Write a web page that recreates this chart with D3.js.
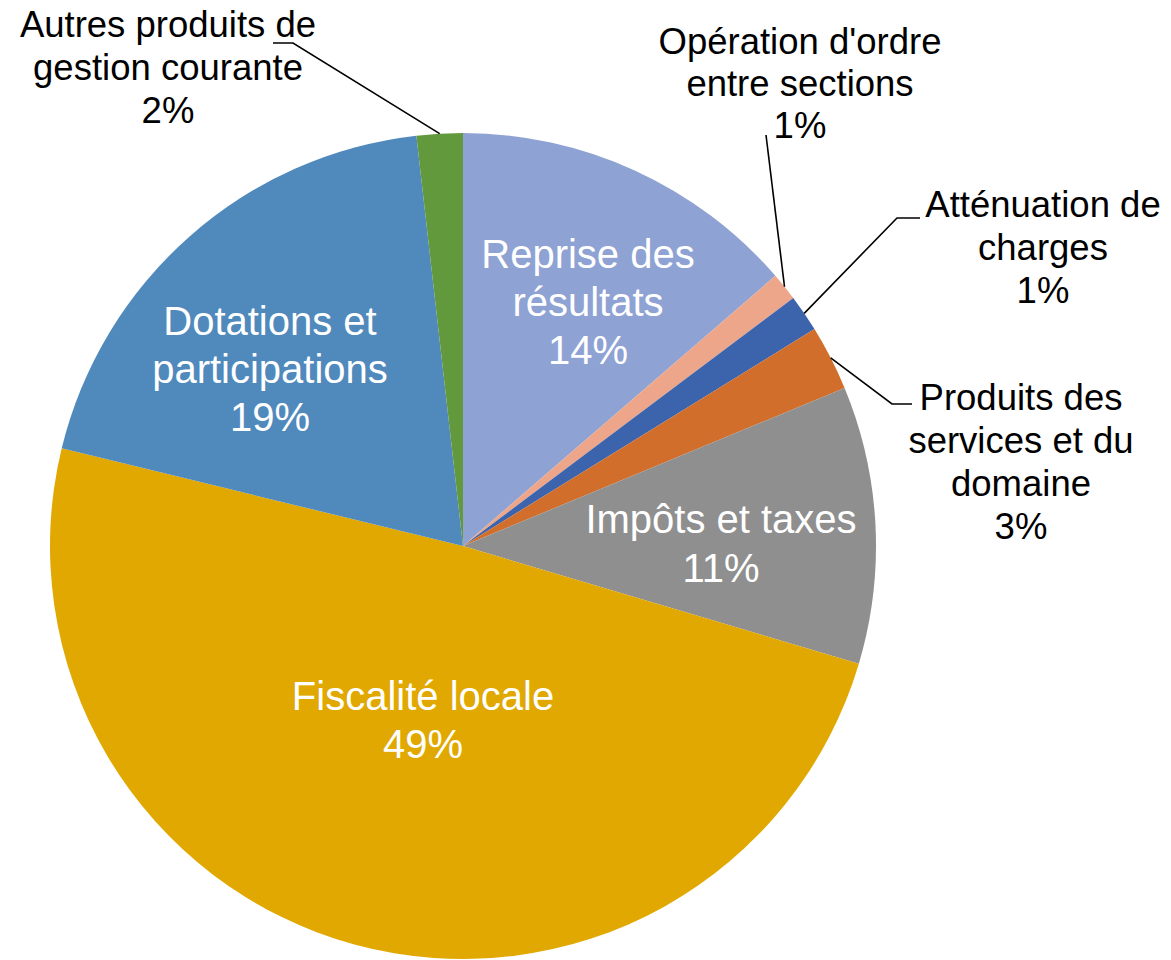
<!DOCTYPE html>
<html>
<head>
<meta charset="utf-8">
<script src="https://cdn.jsdelivr.net/npm/d3@7"></script>
<style>
  html, body { margin: 0; padding: 0; background: #fff; }
  svg text { font-family: "Liberation Sans", Arial, sans-serif; }
</style>
</head>
<body>
<div id="chart"></div>
<script>
// Slices, clockwise from 12 o'clock
var categories = [
  "Reprise des résultats",
  "Opération d'ordre entre sections",
  "Atténuation de charges",
  "Produits des services et du domaine",
  "Impôts et taxes",
  "Fiscalité locale",
  "Dotations et participations",
  "Autres produits de gestion courante"
];
var values = [13.65, 1.1, 1.45, 2.55, 10.85, 49.2, 19.4, 1.8];
var labelLines = [
  ["Reprise des", "résultats"],
  ["Opération d'ordre", "entre sections"],
  ["Atténuation de", "charges"],
  ["Produits des", "services et du", "domaine"],
  ["Impôts et taxes"],
  ["Fiscalité locale"],
  ["Dotations et", "participations"],
  ["Autres produits de", "gestion courante"]
];
var colors = ["#8ea2d3", "#eea68a", "#3b64ad", "#d16e2b", "#8f8f8f", "#e0a800", "#5089bc", "#63993d"];

var width = 1171, height = 960;
var cx = 463, cy = 546, radius = 413;

// label placement (first baseline, line height, leader line bends)
var labelLayout = [
  {x: 588, y: 268, lh: 48, inside: true},
  {x: 800, y: 54, lh: 42, inside: false, leader: [[766, 135]]},
  {x: 1043, y: 217, lh: 43, inside: false, leader: [[897, 218], [920, 218]]},
  {x: 1021, y: 410, lh: 43, inside: false, leader: [[892, 404], [912, 404]]},
  {x: 721, y: 533, lh: 49, inside: true},
  {x: 423, y: 710, lh: 48, inside: true},
  {x: 270, y: 335, lh: 48, inside: true},
  {x: 168, y: 37, lh: 43, inside: false, leader: [[293, 43], [273, 43]]}
];

var total = d3.sum(values);
var data = categories.map(function(c, i) {
  return {name: c, value: values[i], lines: labelLines[i], color: colors[i], layout: labelLayout[i]};
});

var pie = d3.pie()
  .sort(null)
  .value(function(d) { return d.value; });

var arc = d3.arc()
  .innerRadius(0)
  .outerRadius(radius);

var svg = d3.select("#chart").append("svg")
  .attr("width", width)
  .attr("height", height);

var g = svg.append("g")
  .attr("transform", "translate(" + cx + "," + cy + ")");

var arcs = pie(data);

g.selectAll("path.slice")
  .data(arcs)
  .enter().append("path")
  .attr("class", "slice")
  .attr("d", arc)
  .attr("fill", function(d) { return d.data.color; });

// leader lines for outside labels
var line = d3.line();
svg.selectAll("path.leader")
  .data(arcs.filter(function(d) { return !d.data.layout.inside; }))
  .enter().append("path")
  .attr("class", "leader")
  .attr("fill", "none")
  .attr("stroke", "#000")
  .attr("stroke-width", 1.6)
  .attr("d", function(d) {
    var a = (d.startAngle + d.endAngle) / 2;
    var start = [cx + radius * Math.sin(a), cy - radius * Math.cos(a)];
    return line([start].concat(d.data.layout.leader));
  });

// labels
var fmt = function(v) { return Math.round(v / total * 100) + "%"; };

var labels = svg.selectAll("text.label")
  .data(arcs)
  .enter().append("text")
  .attr("class", "label")
  .attr("text-anchor", "middle")
  .attr("fill", function(d) { return d.data.layout.inside ? "#fff" : "#000"; })
  .style("font-size", function(d) { return d.data.layout.inside ? "40px" : "36.5px"; });

labels.each(function(d) {
  var t = d3.select(this);
  var L = d.data.layout;
  var rows = d.data.lines.concat([fmt(d.data.value)]);
  rows.forEach(function(r, i) {
    t.append("tspan")
      .attr("x", L.x)
      .attr("y", L.y + i * L.lh)
      .text(r);
  });
});
</script>
</body>
</html>
